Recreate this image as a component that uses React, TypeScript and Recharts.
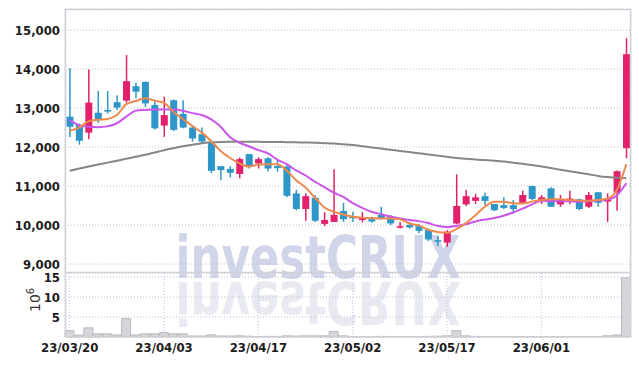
import React from 'react'
import { ComposedChart, BarChart, Bar, Line, XAxis, YAxis, CartesianGrid } from 'recharts'

const dates = [
  '23/03/20', '23/03/21', '23/03/22', '23/03/23', '23/03/24',
  '23/03/27', '23/03/28', '23/03/29', '23/03/30', '23/03/31',
  '23/04/03', '23/04/04', '23/04/05', '23/04/06', '23/04/07',
  '23/04/10', '23/04/11', '23/04/12', '23/04/13', '23/04/14',
  '23/04/17', '23/04/18', '23/04/19', '23/04/20', '23/04/21',
  '23/04/24', '23/04/25', '23/04/26', '23/04/27', '23/04/28',
  '23/05/02', '23/05/03', '23/05/04', '23/05/08', '23/05/09',
  '23/05/10', '23/05/11', '23/05/12', '23/05/15', '23/05/16',
  '23/05/17', '23/05/18', '23/05/19', '23/05/22', '23/05/23',
  '23/05/24', '23/05/25', '23/05/26', '23/05/30', '23/05/31',
  '23/06/01', '23/06/02', '23/06/05', '23/06/07', '23/06/08',
  '23/06/09', '23/06/12', '23/06/13', '23/06/14', '23/06/15',
]

const opens = [
  12780, 12560, 12370, 12880, 12950, 13150, 13190, 13560, 13670, 13080,
  12550, 13200, 12850, 12500, 12330, 12110, 11510, 11440, 11310, 11820,
  11580, 11710, 11510, 11500, 10810, 10410, 10700, 10030, 10080, 10360,
  10210, 10130, 10150, 10260, 10210, 9940, 10000, 9970, 9870, 9610,
  9550, 10040, 10530, 10620, 10740, 10540, 10510, 10510, 10570, 11000,
  10640, 10940, 10530, 10640, 10660, 10470, 10840, 10600, 10840, 11970,
]
const highs = [
  14020, 12600, 13990, 13440, 13440, 13330, 14360, 13650, 13680, 13180,
  13290, 13220, 13200, 12560, 12500, 12140, 11510, 11510, 11730, 11820,
  11740, 11740, 11690, 11530, 10900, 10810, 10770, 10330, 11430, 10570,
  10340, 10330, 10210, 10470, 10260, 10080, 10080, 10030, 9910, 9720,
  9870, 11300, 10900, 10800, 10830, 10540, 10710, 10640, 10880, 11010,
  10770, 10970, 10770, 10880, 10680, 10850, 10850, 10810, 11400, 14790,
]
const lows = [
  12260, 12060, 12200, 12620, 12860, 12950, 13140, 13250, 13030, 12450,
  12260, 12410, 12480, 12140, 12080, 11330, 11150, 11220, 11200, 11450,
  11450, 11370, 11370, 10710, 10380, 10110, 10080, 9970, 10080, 10080,
  10080, 10070, 10060, 10150, 10000, 9910, 9910, 9790, 9590, 9460,
  9440, 10020, 10490, 10540, 10510, 10360, 10410, 10330, 10560, 10640,
  10540, 10470, 10470, 10530, 10380, 10440, 10470, 10080, 10370, 11710,
]
const closes = [
  12520, 12160, 13140, 12710, 12910, 13010, 13690, 13420, 13120, 12480,
  12820, 12440, 12500, 12220, 12140, 11390, 11410, 11340, 11690, 11500,
  11690, 11450, 11460, 10750, 10410, 10740, 10110, 10130, 10260, 10150,
  10180, 10190, 10090, 10170, 10040, 9970, 9940, 9850, 9630, 9590,
  9830, 10490, 10740, 10710, 10620, 10380, 10440, 10410, 10770, 10670,
  10710, 10470, 10670, 10680, 10410, 10770, 10570, 10680, 11380, 14380,
]

const ma5 = [
  12420, 12500, 12660, 12700, 12720, 12820, 13100, 13180, 13250, 13190,
  13130, 12900, 12720, 12540, 12370, 12150, 11900, 11720, 11580, 11500,
  11550, 11560, 11560, 11400, 11150, 10960, 10700, 10450, 10340, 10270,
  10210, 10190, 10180, 10170, 10170, 10150, 10040, 9990, 9880, 9820,
  9800, 9900, 10050, 10250, 10470, 10600, 10600, 10560, 10550, 10600,
  10640, 10660, 10660, 10640, 10630, 10620, 10640, 10680, 10900, 11560,
]
const ma20 = [
  12690, 12560, 12520, 12510, 12530, 12610, 12780, 12930, 12950, 12960,
  12960, 12960, 12930, 12870, 12820, 12710, 12520, 12250, 12110, 12020,
  11920, 11840, 11680, 11560, 11400, 11270, 11110, 10970, 10830, 10720,
  10560, 10440, 10340, 10280, 10220, 10170, 10130, 10100, 10050, 9980,
  9945, 9980, 10020, 10090, 10140, 10180, 10240, 10320, 10420, 10530,
  10620, 10615, 10610, 10610, 10600, 10610, 10630, 10650, 10760, 11070,
]
const ma60 = [
  11390, 11450, 11500, 11550, 11600, 11650, 11700, 11750, 11800, 11860,
  11920, 11970, 12020, 12060, 12100, 12120, 12130, 12135, 12135, 12135,
  12135, 12130, 12130, 12125, 12120, 12115, 12110, 12100, 12090, 12070,
  12050, 12020, 11990, 11960, 11930, 11900, 11870, 11840, 11810, 11780,
  11750, 11720, 11700, 11680, 11665, 11650, 11630, 11600, 11570, 11540,
  11500, 11460, 11420, 11380, 11340, 11300, 11260, 11230, 11210, 11200,
]

// volume in millions of shares
const volumes = [
  1.6, 0.5, 2.3, 0.8, 0.8, 0.5, 4.6, 0.5, 0.8, 0.8,
  1.1, 0.8, 0.8, 0.25, 0.25, 0.55, 0.25, 0.25, 0.3, 0.2,
  0.1, 0.15, 0.15, 0.3, 0.25, 0.3, 0.3, 0.3, 1.4, 0.3,
  0.1, 0.1, 0.1, 0.15, 0.1, 0.1, 0.1, 0.1, 0.15, 0.2,
  0.3, 1.6, 0.3, 0.15, 0.1, 0.1, 0.1, 0.1, 0.1, 0.1,
  0.1, 0.1, 0.1, 0.1, 0.1, 0.1, 0.1, 0.3, 0.5, 14.8,
]

const xTicks = ['23/03/20', '23/04/03', '23/04/17', '23/05/02', '23/05/17', '23/06/01']
const priceTicks = [9000, 10000, 11000, 12000, 13000, 14000, 15000]
const volumeTicks = [5, 10, 15]

const rows = dates.map((date, i) => ({
  date,
  open: opens[i],
  high: highs[i],
  low: lows[i],
  close: closes[i],
  ma5: ma5[i],
  ma20: ma20[i],
  ma60: ma60[i],
  volume: volumes[i],
}))

const UP = '#e2206b'
const DOWN = '#2e96c8'
const GRID = '#bfc2d4'
const FONT = "'Liberation Sans Narrow', 'DejaVu Sans Condensed', sans-serif"
const tickStyle = { fill: '#1c1c1c', fontSize: 13, fontWeight: 700, fontFamily: FONT }
const MARK_FONT = "'DejaVu Sans', sans-serif"

function Candle(props: any) {
  const { x, y, width, height, payload } = props
  const { open, close, high, low } = payload
  const top = Math.min(y, y + height)
  const h = Math.abs(height)
  const px = (v: number) => top + ((high - v) / (high - low)) * h
  const cx = x + width / 2
  const color = close >= open ? UP : DOWN
  const bodyTop = px(Math.max(open, close))
  const bodyBot = px(Math.min(open, close))
  const bw = 7
  return (
    <g>
      <line x1={cx} x2={cx} y1={top} y2={top + h} stroke={color} strokeWidth={1.5} />
      <rect x={cx - bw / 2} y={bodyTop} width={bw} height={Math.max(bodyBot - bodyTop, 1.5)} fill={color} />
    </g>
  )
}

export default function App() {
  return (
    <div style={{ position: 'absolute', left: 0, top: 0, width: 639, height: 366, background: '#fff' }}>
      <svg width={639} height={366} style={{ position: 'absolute', left: 0, top: 0 }}>
        <text x={318} y={278} textAnchor="middle" fontSize={58} fontWeight={700}
          fontFamily={MARK_FONT} fill="#d0d5e9"
          textLength={285} lengthAdjust="spacingAndGlyphs">investCRUX</text>
        <g transform="translate(0, 560) scale(1, -1)">
          <text x={318} y={278} textAnchor="middle" fontSize={58} fontWeight={700}
            fontFamily={MARK_FONT} fill="#e9eaf1"
            textLength={285} lengthAdjust="spacingAndGlyphs">investCRUX</text>
        </g>
      </svg>

      <div style={{ position: 'absolute', left: 0, top: 0 }}>
        <ComposedChart width={639} height={273} data={rows} margin={{ top: 9, right: 8, left: 8, bottom: 0 }}>
          <CartesianGrid stroke={GRID} strokeDasharray="1 2" />
          <XAxis dataKey="date" ticks={xTicks} interval={0} tick={false} tickLine={false} axisLine={false} height={0} />
          <YAxis
            domain={[8770, 15540]}
            allowDataOverflow
            ticks={priceTicks}
            interval={0}
            width={57}
            tickSize={0}
            tickMargin={5}
            tickLine={false}
            axisLine={false}
            tick={tickStyle}
            tickFormatter={(v: number) => v.toLocaleString('en-US')}
          />
          <Bar dataKey={(d: any) => [d.low, d.high]} shape={<Candle />} isAnimationActive={false} />
          <Line type="monotone" dataKey="ma60" stroke="#868686" strokeWidth={2} dot={false} isAnimationActive={false} />
          <Line type="monotone" dataKey="ma20" stroke="#c955ea" strokeWidth={2} dot={false} isAnimationActive={false} />
          <Line type="monotone" dataKey="ma5" stroke="#ee8a4e" strokeWidth={2} dot={false} isAnimationActive={false} />
        </ComposedChart>
      </div>

      <div style={{ position: 'absolute', left: 0, top: 263 }}>
        <BarChart width={639} height={103} data={rows} margin={{ top: 10, right: 8, left: 8, bottom: 0 }} barCategoryGap={0}>
          <CartesianGrid stroke={GRID} strokeDasharray="1 2" />
          <XAxis
            dataKey="date"
            ticks={xTicks}
            interval={0}
            tickLine={false}
            axisLine={false}
            height={29}
            tickSize={0}
            tickMargin={6}
            tick={tickStyle}
          />
          <YAxis
            domain={[0, 16]}
            allowDataOverflow
            ticks={volumeTicks}
            interval={0}
            width={57}
            tickSize={0}
            tickMargin={5}
            tickLine={false}
            axisLine={false}
            tick={tickStyle}
          />
          <Bar dataKey="volume" fill="#d5d5da" stroke="#b9b9c1" strokeWidth={1} isAnimationActive={false} />
        </BarChart>
      </div>

      <svg width={639} height={366} style={{ position: 'absolute', left: 0, top: 0, pointerEvents: 'none' }}>
        <rect x={65.5} y={9.5} width={565} height={327.5} fill="none" stroke="#d0d0d6" strokeWidth={1.5} />
        <line x1={65} x2={631} y1={272.5} y2={272.5} stroke="#d0d0d6" strokeWidth={1.5} />
        <text transform="translate(40, 312) rotate(-90)" fontSize={14} fill="#333"
          fontFamily="'DejaVu Sans', sans-serif">
          10<tspan dy={-6} fontSize={10}>6</tspan>
        </text>
      </svg>
    </div>
  )
}
